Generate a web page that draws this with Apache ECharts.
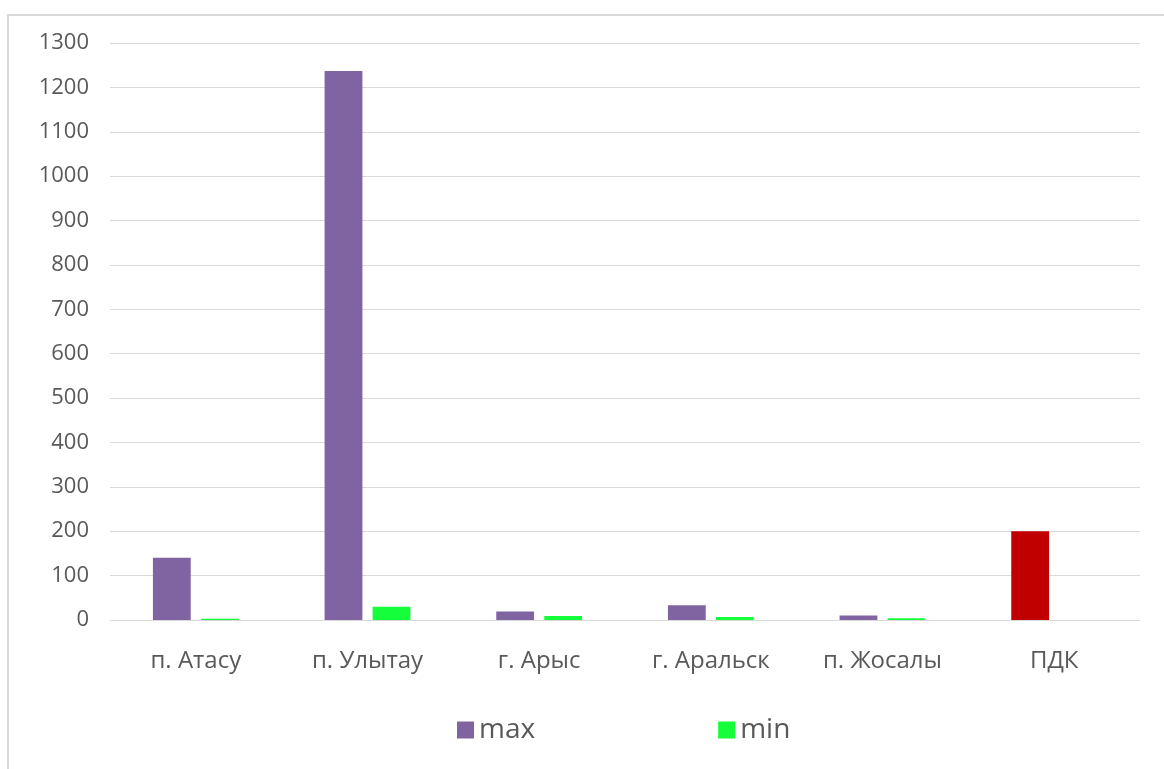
<!DOCTYPE html>
<html>
<head>
<meta charset="utf-8">
<script src="https://cdn.jsdelivr.net/npm/echarts@6/dist/echarts.min.js"></script>
<style>
  html, body { margin: 0; padding: 0; background: #fff; }
  #chart { width: 1164px; height: 769px; }
</style>
</head>
<body>
<div id="chart"></div>
<script>
// Sites and the limit value (ПДК) along the category axis
const categories = ['п. Атасу', 'п. Улытау', 'г. Арыс', 'г. Аральск', 'п. Жосалы', 'ПДК'];
// Maximum and minimum values per site; ПДК has only a single value
const maxValues = [140, 1237, 19, 33, 10, 200];
const minValues = [3, 30, 9, 7, 4, null];
const yTicks = { min: 0, max: 1300, step: 100 };

const FONT = '"Open Sans", "Noto Sans", sans-serif';
const TEXT = '#595959';
const GRID = '#d9d9d9';
const LIMIT_INDEX = categories.indexOf('ПДК');

const chart = echarts.init(document.getElementById('chart'));
chart.setOption({
  backgroundColor: '#fff',
  animation: false,
  graphic: [{
    type: 'rect',
    shape: { x: 8, y: 15, width: 1170, height: 770 },
    style: { fill: 'none', stroke: '#d9d9d9', lineWidth: 2 },
    silent: true
  }],
  grid: { left: 110, right: 24, top: 43, bottom: 149 },
  legend: {
    left: 452, top: 711,
    itemWidth: 17, itemHeight: 17, itemGap: 183,
    icon: 'rect',
    textStyle: { fontFamily: FONT, fontSize: 28, color: TEXT },
    data: ['max', 'min']
  },
  xAxis: {
    type: 'category',
    data: categories,
    axisLine: { show: true, lineStyle: { color: GRID, width: 1 } },
    axisTick: { show: false },
    axisLabel: { fontFamily: FONT, fontSize: 24, color: TEXT, margin: 29 }
  },
  yAxis: {
    type: 'value',
    min: yTicks.min, max: yTicks.max, interval: yTicks.step,
    axisLine: { show: false },
    axisTick: { show: false },
    splitLine: { lineStyle: { color: GRID, width: 1 } },
    axisLabel: {
      fontFamily: FONT, fontSize: 22, color: TEXT, margin: 21,
      formatter: (v) => String(v)
    }
  },
  series: [
    {
      name: 'max', type: 'bar',
      barGap: '27%', barCategoryGap: '50%',
      itemStyle: { color: '#8064A2' },
      data: maxValues.map((v, i) => i === LIMIT_INDEX
        ? { value: v, itemStyle: { color: '#C00000' } }
        : v)
    },
    {
      name: 'min', type: 'bar',
      itemStyle: { color: '#14FF3A' },
      data: minValues
    }
  ]
});
</script>
</body>
</html>
